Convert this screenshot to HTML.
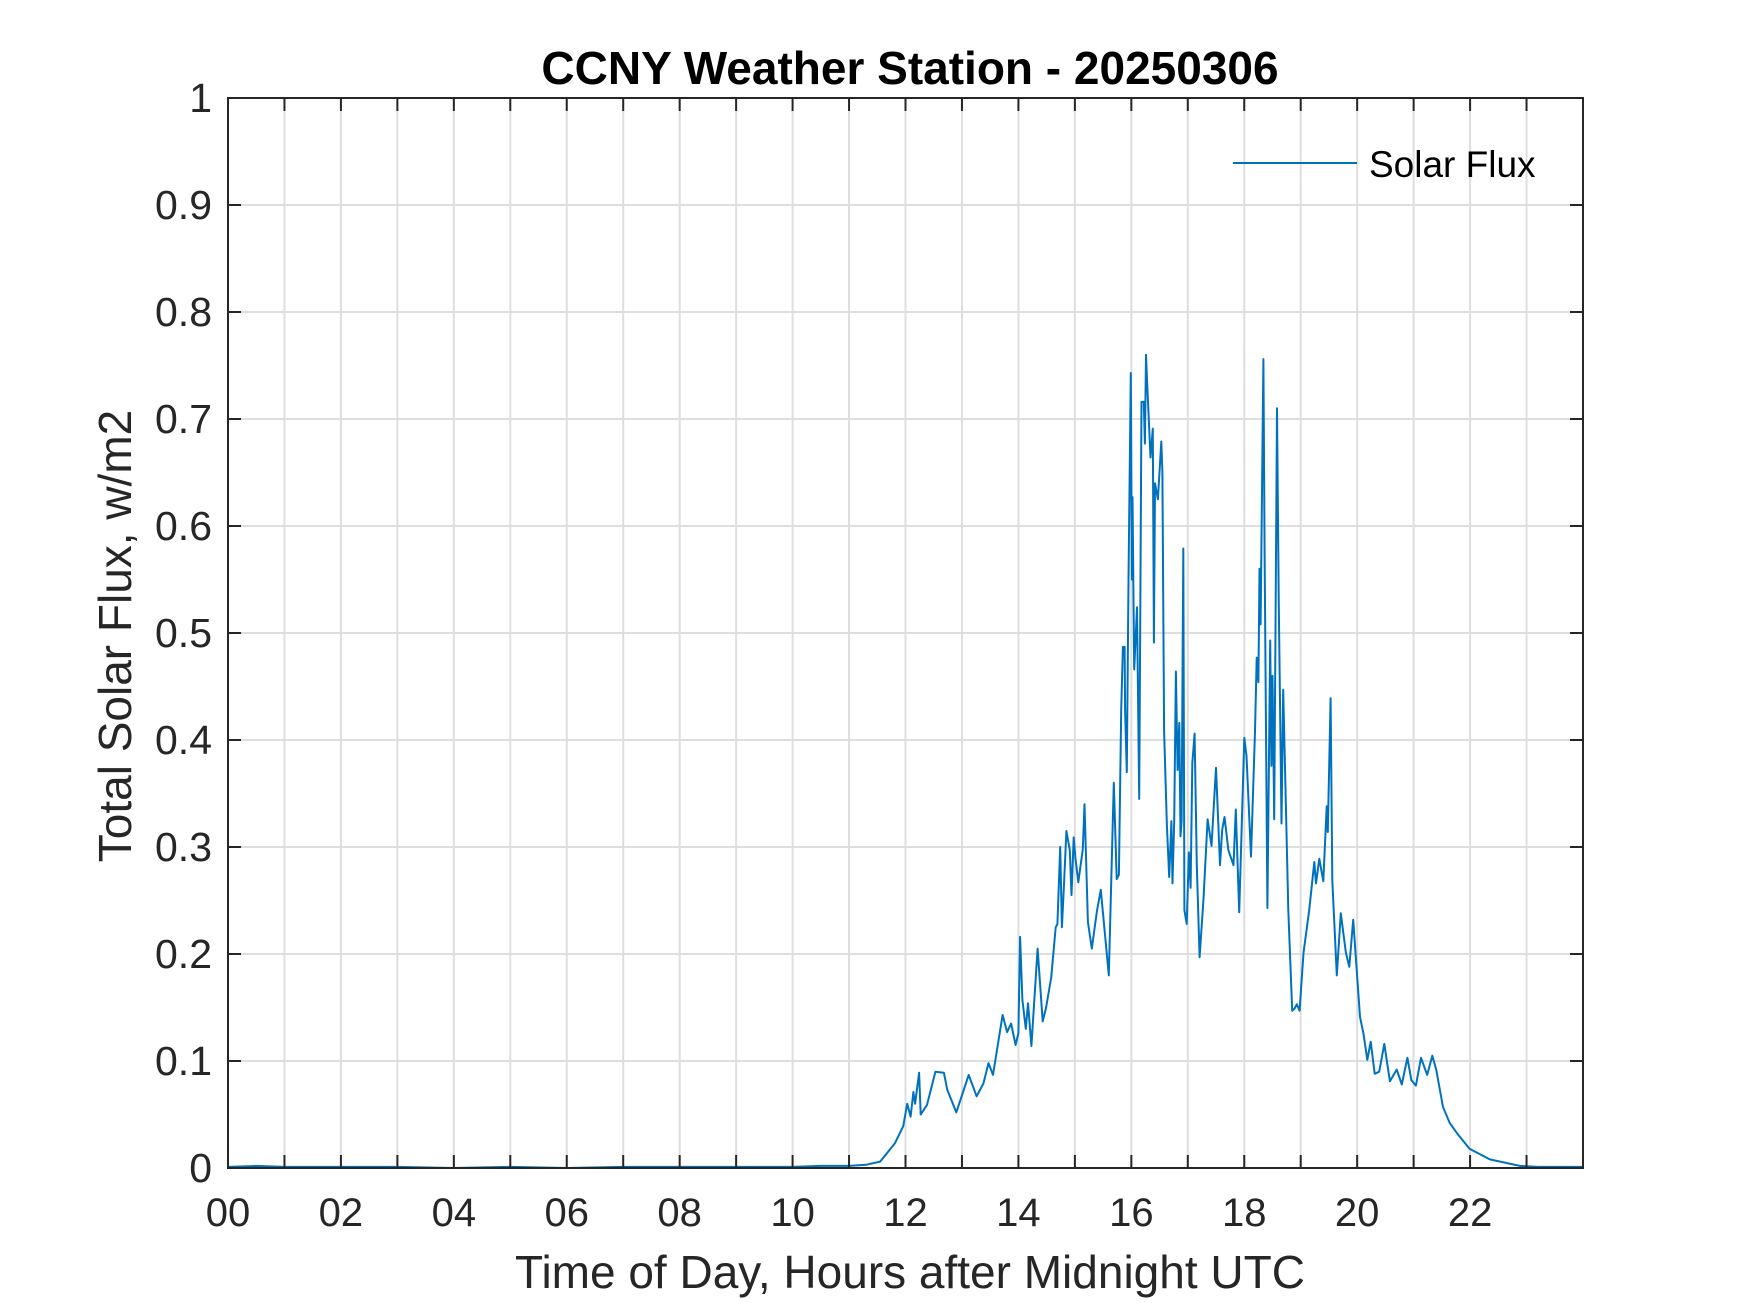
<!DOCTYPE html>
<html><head><meta charset="utf-8"><style>
html,body{margin:0;padding:0;background:#fff;}
svg{display:block;font-family:"Liberation Sans",Arial,sans-serif;}
</style></head><body>
<svg id="chart" width="1750" height="1313" viewBox="0 0 1750 1313" xmlns="http://www.w3.org/2000/svg">
<rect width="1750" height="1313" fill="#fff"/>
<g id="grid"></g>
<g id="series"></g>
<rect x="228" y="98" width="1355" height="1070" fill="none" stroke="#262626" stroke-width="2"/>
<g id="ticks"></g>
<text x="910" y="84" text-anchor="middle" font-size="46" font-weight="bold" fill="#000">CCNY Weather Station - 20250306</text>
<text x="910" y="1288" text-anchor="middle" font-size="46" fill="#262626">Time of Day, Hours after Midnight UTC</text>
<text transform="translate(131,636) rotate(-90)" text-anchor="middle" font-size="46" fill="#262626">Total Solar Flux, w/m2</text>
<g>
<line x1="1233" y1="163" x2="1357" y2="163" stroke="#0072BD" stroke-width="2"/>
<text x="1369" y="177" font-size="37" fill="#000">Solar Flux</text>
</g>
</svg>
<script>
const hours = [0,0.5,1,1.5,2,3,4,5,6,7,8,9,10,10.5,11,11.3,11.55,11.72,11.81,11.96,12.03,12.09,12.14,12.17,12.24,12.27,12.38,12.53,12.68,12.74,12.9,13.12,13.26,13.38,13.47,13.55,13.72,13.8,13.87,13.95,14.0,14.03,14.07,14.13,14.17,14.23,14.34,14.43,14.49,14.58,14.66,14.69,14.74,14.77,14.81,14.85,14.91,14.94,14.98,15.01,15.06,15.14,15.17,15.23,15.3,15.39,15.46,15.6,15.69,15.74,15.78,15.82,15.85,15.88,15.89,15.92,15.95,15.99,16.01,16.02,16.05,16.1,16.14,16.18,16.22,16.24,16.26,16.28,16.34,16.38,16.4,16.42,16.47,16.53,16.55,16.58,16.63,16.67,16.71,16.73,16.76,16.79,16.82,16.85,16.87,16.89,16.92,16.94,16.98,17.02,17.05,17.08,17.12,17.16,17.21,17.28,17.35,17.42,17.5,17.57,17.61,17.65,17.72,17.81,17.85,17.91,18.0,18.04,18.12,18.19,18.22,18.25,18.27,18.29,18.34,18.36,18.41,18.46,18.48,18.5,18.53,18.58,18.61,18.66,18.69,18.78,18.85,18.89,18.93,18.98,19.05,19.15,19.24,19.27,19.33,19.4,19.46,19.48,19.53,19.56,19.64,19.71,19.8,19.86,19.93,20.05,20.11,20.18,20.24,20.31,20.39,20.48,20.58,20.7,20.79,20.89,20.96,21.04,21.13,21.24,21.33,21.4,21.52,21.64,21.79,21.99,22.35,22.88,23.2,24];
const flux = [0.001,0.002,0.001,0.001,0.001,0.001,0,0.001,0,0.001,0.001,0.001,0.001,0.002,0.002,0.003,0.006,0.017,0.023,0.039,0.06,0.048,0.071,0.06,0.089,0.05,0.059,0.09,0.089,0.073,0.052,0.087,0.067,0.079,0.098,0.087,0.143,0.127,0.135,0.115,0.126,0.216,0.157,0.13,0.154,0.114,0.205,0.137,0.15,0.178,0.225,0.228,0.3,0.225,0.267,0.315,0.297,0.255,0.309,0.29,0.267,0.298,0.34,0.23,0.205,0.24,0.26,0.18,0.36,0.27,0.274,0.428,0.487,0.487,0.428,0.37,0.55,0.743,0.55,0.627,0.466,0.524,0.345,0.716,0.716,0.677,0.76,0.735,0.664,0.691,0.491,0.64,0.625,0.679,0.65,0.408,0.32,0.272,0.324,0.266,0.324,0.464,0.372,0.416,0.31,0.324,0.579,0.241,0.228,0.295,0.262,0.378,0.406,0.283,0.197,0.253,0.326,0.301,0.374,0.283,0.316,0.328,0.297,0.283,0.335,0.239,0.402,0.385,0.291,0.408,0.477,0.454,0.56,0.508,0.756,0.575,0.243,0.493,0.376,0.46,0.326,0.71,0.533,0.322,0.447,0.241,0.147,0.149,0.153,0.147,0.201,0.241,0.286,0.266,0.289,0.268,0.338,0.314,0.439,0.269,0.18,0.238,0.201,0.188,0.232,0.141,0.126,0.101,0.118,0.088,0.09,0.116,0.081,0.092,0.078,0.103,0.082,0.077,0.103,0.087,0.105,0.092,0.057,0.042,0.031,0.018,0.008,0.002,0.001,0.001];
const xTickLabels = ["00","02","04","06","08","10","12","14","16","18","20","22"];
const yTickLabels = ["0","0.1","0.2","0.3","0.4","0.5","0.6","0.7","0.8","0.9","1"];

const L=228,R=1583,T=98,B=1168;
const X0=0,X1=24,Y0=0,Y1=1;
function xs(h){return L+(h-X0)/(X1-X0)*(R-L);}
function ys(v){return B-(v-Y0)/(Y1-Y0)*(B-T);}
const NS="http://www.w3.org/2000/svg";
const grid=document.getElementById('grid'),ticks=document.getElementById('ticks'),series=document.getElementById('series');
function mk(tag,attrs){const e=document.createElementNS(NS,tag);for(const k in attrs)e.setAttribute(k,attrs[k]);return e;}

for(let h=1;h<24;h++){
  const x=xs(h);
  const g=mk('line',{x1:x,y1:T,x2:x,y2:B,stroke:'#dedede','stroke-width':2});
  
  
  grid.appendChild(g);
}
for(let i=1;i<yTickLabels.length-1;i++){
  const y=ys(parseFloat(yTickLabels[i]));
  const g=mk('line',{x1:L,y1:y,x2:R,y2:y,stroke:'#dedede','stroke-width':2});
  
  
  grid.appendChild(g);
}
for(let h=0;h<=24;h++){
  const x=xs(h);
  const t1=mk('line',{x1:x,y1:B,x2:x,y2:B-13,stroke:'#262626','stroke-width':2});
  
  
  ticks.appendChild(t1);
  const t2=mk('line',{x1:x,y1:T,x2:x,y2:T+13,stroke:'#262626','stroke-width':2});
  
  
  ticks.appendChild(t2);
}
xTickLabels.forEach(function(lab){
  const t=mk('text',{x:xs(parseInt(lab,10)),y:B+58,'text-anchor':'middle','font-size':40,fill:'#262626'});
  
  
  t.textContent=lab;ticks.appendChild(t);
});
yTickLabels.forEach(function(lab){
  const y=ys(parseFloat(lab));
  const a=mk('line',{x1:L,y1:y,x2:L+13,y2:y,stroke:'#262626','stroke-width':2});
  
  
  ticks.appendChild(a);
  const b=mk('line',{x1:R,y1:y,x2:R-13,y2:y,stroke:'#262626','stroke-width':2});
  
  
  ticks.appendChild(b);
  const t=mk('text',{x:L-16,y:y+14,'text-anchor':'end','font-size':41,fill:'#262626'});
  
  
  t.textContent=lab;ticks.appendChild(t);
});
let d='';
for(let i=0;i<hours.length;i++){d+=(i?'L':'M')+xs(hours[i]).toFixed(1)+' '+ys(flux[i]).toFixed(1);}
const p=mk('path',{d:d,fill:'none',stroke:'#0072BD','stroke-width':2,'stroke-linejoin':'round'});


series.appendChild(p);
</script>
</body></html>
